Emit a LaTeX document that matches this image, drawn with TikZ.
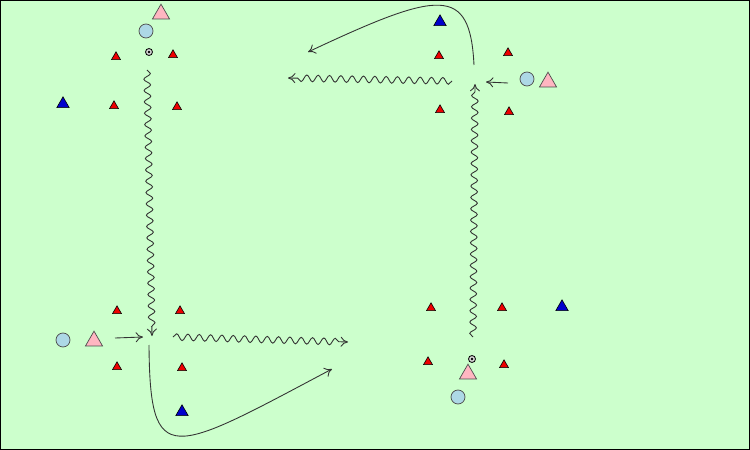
\documentclass[tikz,border=0pt]{standalone}
\usetikzlibrary{shapes,decorations.pathmorphing,arrows.meta}

\definecolor{pitch}{HTML}{CCFFCC}
\definecolor{conered}{HTML}{EE0000}
\definecolor{coneblue}{HTML}{0000CC}
\definecolor{shirtpink}{HTML}{FFB6C1}
\definecolor{shirtblue}{HTML}{ADD8E6}

\tikzset{
  cone/.style={regular polygon, regular polygon sides=3, draw=black, fill=conered, inner sep=0pt, minimum size=3.1mm, line width=0.5pt},
  bluecone/.style={cone, fill=coneblue, minimum size=4.3mm},
  attacker/.style={regular polygon, regular polygon sides=3, draw=black!70, fill=shirtpink, inner sep=0pt, minimum size=5.9mm, line width=0.6pt},
  defender/.style={circle, draw=black!70, fill=shirtblue, inner sep=0pt, minimum size=4.2mm, line width=0.6pt},
  ball/.style={circle, draw=black, fill=black!15, inner sep=0pt, minimum size=2.1mm, line width=0.7pt,
    path picture={\fill[black] (path picture bounding box.center) circle (0.4mm);}},
  dribble/.style={->, black!80, line width=0.75pt, decorate, decoration={snake, amplitude=1mm, segment length=3.4mm, post length=1.5mm}},
  pass/.style={->, black!80, line width=0.75pt},
}

\begin{document}
\begin{tikzpicture}[x=0.03cm, y=-0.03cm, >={To[length=2.2mm,width=3mm]}]

  \fill[pitch] (0,0) rectangle (750,450);
  \useasboundingbox (0,0) rectangle (750,450);
  \draw[line width=0.8pt] (0.5,0.5) rectangle (749.5,449.5);

  % top left
  \node[attacker] (AttA) at (161,14) {};
  \node[defender] (DefA) at (146,31) {};
  \node[ball] (BallA) at (149,52) {};
  \node[cone] (ConeA1) at (116,57) {};
  \node[cone] (ConeA2) at (173,55) {};
  \node[cone] (ConeA3) at (114,106) {};
  \node[cone] (ConeA4) at (177,107) {};
  \node[bluecone] (BlueA) at (63,104) {};

  % bottom left
  \node[defender] (DefB) at (63,340) {};
  \node[attacker] (AttB) at (94,341) {};
  \node[cone] (ConeB1) at (117,311) {};
  \node[cone] (ConeB2) at (180,311) {};
  \node[cone] (ConeB3) at (117,367) {};
  \node[cone] (ConeB4) at (182,368) {};
  \node[bluecone] (BlueB) at (182,412) {};

  % top right
  \node[bluecone] (BlueC) at (440,22) {};
  \node[cone] (ConeC1) at (439,56) {};
  \node[cone] (ConeC2) at (508,53) {};
  \node[cone] (ConeC3) at (440,110) {};
  \node[cone] (ConeC4) at (509,112) {};
  \node[defender] (DefC) at (527,79) {};
  \node[attacker] (AttC) at (548,82) {};

  % bottom right
  \node[cone] (ConeD1) at (431,308) {};
  \node[cone] (ConeD2) at (502,308) {};
  \node[cone] (ConeD3) at (428,362) {};
  \node[cone] (ConeD4) at (504,365) {};
  \node[bluecone] (BlueD) at (562,307) {};
  \node[ball] (BallD) at (472,359) {};
  \node[attacker] (AttD) at (468,374) {};
  \node[defender] (DefD) at (458,397) {};

  % runs and passes
  \coordinate (RunA1) at (147,70);
  \coordinate (RunA2) at (152,336);
  \coordinate (PassB1) at (115,338);
  \coordinate (PassB2) at (143,337);
  \coordinate (RunB1) at (173,337);
  \coordinate (RunB2) at (348,342);
  \coordinate (CurveB1) at (149,345);
  \coordinate (CurveB2) at (332,369);
  \coordinate (PassC1) at (508,83);
  \coordinate (PassC2) at (486,82);
  \coordinate (RunC1) at (452,81);
  \coordinate (RunC2) at (288,78);
  \coordinate (RunD1) at (473,337);
  \coordinate (RunD2) at (475,84);
  \coordinate (CurveC1) at (474,65);
  \coordinate (CurveC2) at (308,52);

  \draw[dribble] (RunA1) -- (RunA2);
  \draw[pass] (PassB1) -- (PassB2);
  \draw[dribble] (RunB1) -- (RunB2);
  \draw[pass] (CurveB1) .. controls (150,470) and (170,455) .. (CurveB2);
  \draw[pass] (PassC1) -- (PassC2);
  \draw[dribble] (RunC1) -- (RunC2);
  \draw[dribble] (RunD1) -- (RunD2);
  \draw[pass] (CurveC1) .. controls (470,-15) and (440,-10) .. (CurveC2);

\end{tikzpicture}
\end{document}
